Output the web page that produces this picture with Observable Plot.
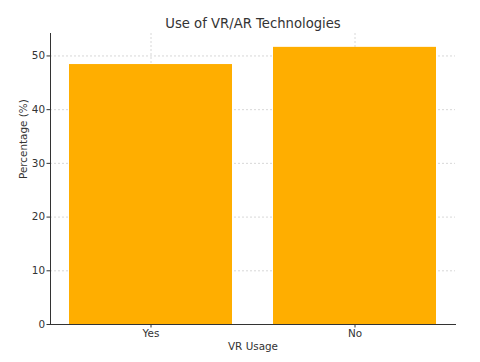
<!DOCTYPE html>
<html>
<head>
<meta charset="utf-8">
<script src="https://cdn.jsdelivr.net/npm/d3@7"></script>
<script src="https://cdn.jsdelivr.net/npm/@observablehq/plot@0.6"></script>
<style>
  html, body { margin: 0; padding: 0; background: #fff; }
</style>
</head>
<body>
<div id="chart"></div>
<script>
const categories = ["Yes", "No"];
const percentages = [48.4, 51.6];
const yTicks = [0, 10, 20, 30, 40, 50];
const title = "Use of VR/AR Technologies";
const xLabel = "VR Usage";
const yLabel = "Percentage (%)";

const data = categories.map((c, i) => ({category: c, value: percentages[i]}));
const font = "DejaVu Sans, sans-serif";

const chart = Plot.plot({
  width: 480,
  height: 362,
  marginLeft: 50,
  marginRight: 25,
  marginTop: 33,
  marginBottom: 38,
  style: {fontFamily: font, fontSize: "10.4px", color: "#333", background: "#fff"},
  x: {domain: categories, paddingInner: 0.2, paddingOuter: 0.088, label: null},
  y: {domain: [0, 54.18], label: null},
  marks: [
    Plot.gridY(yTicks, {stroke: "#c8c8c8", strokeOpacity: 0.7, strokeDasharray: "2,2"}),
    Plot.gridX(categories, {stroke: "#c8c8c8", strokeOpacity: 0.7, strokeDasharray: "2,2"}),
    Plot.barY(data, {x: "category", y: "value", fill: "#ffae00"}),
    Plot.axisY(yTicks, {tickSize: 3.5, tickPadding: 2, stroke: "#333", fontSize: 10.4, fill: "#333", label: null}),
    Plot.axisX({tickSize: 3.5, tickPadding: 2, stroke: "#333", fontSize: 10.4, fill: "#333", label: null}),
    Plot.frame({anchor: "left", stroke: "#333"}),
    Plot.frame({anchor: "bottom", stroke: "#333"}),
    Plot.text([title], {frameAnchor: "top", dy: -10, fontSize: 13.2, fill: "#333", lineAnchor: "middle"}),
    Plot.text([xLabel], {frameAnchor: "bottom", dy: 22, fontSize: 10.4, fill: "#333", lineAnchor: "middle"}),
    Plot.text([yLabel], {frameAnchor: "left", dx: -27, rotate: -90, fontSize: 10.4, fill: "#333", lineAnchor: "middle"})
  ]
});
document.getElementById("chart").appendChild(chart);
</script>
</body>
</html>
